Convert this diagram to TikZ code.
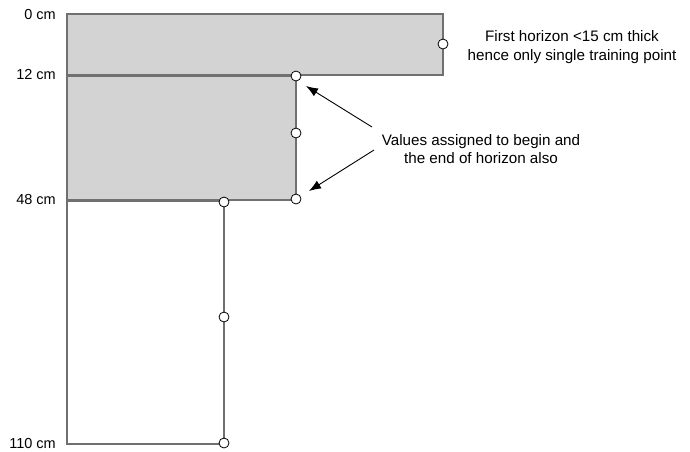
\documentclass[tikz,border=0pt]{standalone}
\usepackage{fontspec}
\setmainfont{Liberation Sans}
\usetikzlibrary{arrows.meta}
\definecolor{hfill}{HTML}{D3D3D3}
\definecolor{hline}{HTML}{707070}
\begin{document}
\begin{tikzpicture}[x=1pt,y=-1pt,
  horizon/.style={draw=hline,line width=1.2pt},
  pt/.style={circle,draw=black,fill=white,line width=0.8pt,inner sep=0pt,minimum size=10pt},
  depth/.style={anchor=east,inner sep=2pt,font=\fontsize{14.5}{17}\selectfont},
  note/.style={align=center,font=\fontsize{15.2}{18.5}\selectfont},
  arr/.style={-{Latex[length=12pt,width=9pt]},line width=0.9pt}]
\useasboundingbox (0,0) rectangle (690,451);
\draw[horizon,fill=hfill] (67,14) rectangle (443,75);
\draw[horizon,fill=hfill] (67,76) rectangle (296,200);
\draw[horizon,fill=white] (67,201) rectangle (224,444);
\node[pt] (p1) at (443,44) {};
\node[pt] (p2) at (296,76) {};
\node[pt] (p3) at (296,133) {};
\node[pt] (p4) at (296,199) {};
\node[pt] (p5) at (224,202) {};
\node[pt] (p6) at (224,317) {};
\node[pt] (p7) at (224,443) {};
\node[depth] (d0) at (58,15) {0 cm};
\node[depth] (d12) at (58,75) {12 cm};
\node[depth] (d48) at (58,200) {48 cm};
\node[depth] (d110) at (58,443) {110 cm};
\node[note] (n1) at (572,47) {First horizon <15 cm thick\\hence only single training point};
\node[note] (n2) at (481,149) {Values assigned to begin and\\the end of horizon also};
\coordinate (a1) at (372,127);
\coordinate (a2) at (374,150);
\draw[arr] (a1) -- (306,86);
\draw[arr] (a2) -- (309,191);
\end{tikzpicture}
\end{document}
